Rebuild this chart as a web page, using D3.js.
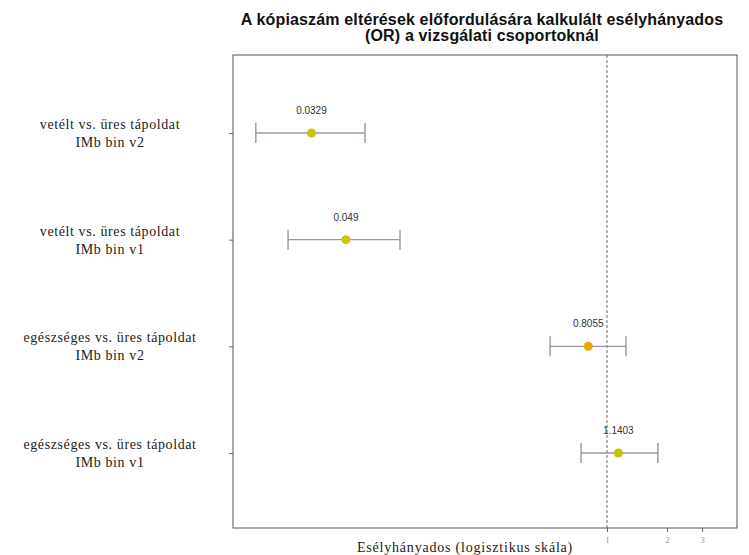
<!DOCTYPE html>
<html>
<head>
<meta charset="utf-8">
<script src="https://cdn.jsdelivr.net/npm/d3@7"></script>
<style>
  html, body { margin: 0; padding: 0; background: #fff; }
  svg { display: block; }
</style>
</head>
<body>
<svg id="chart" width="749" height="555"></svg>
<script>
// Odds ratios with confidence intervals per comparison group
const groups = [
  ["vetélt vs. üres tápoldat", "IMb bin v2"],
  ["vetélt vs. üres tápoldat", "IMb bin v1"],
  ["egészséges vs. üres tápoldat", "IMb bin v2"],
  ["egészséges vs. üres tápoldat", "IMb bin v1"]
];
const oddsRatio = [0.0329, 0.049, 0.8055, 1.1403];
const ciLower = [0.0173, 0.0251, 0.518, 0.741];
const ciUpper = [0.0611, 0.0915, 1.245, 1.80];
const pointColors = ["#cfc400", "#cfc400", "#f0a500", "#c3c400"];
const xTicks = [1, 2, 3];

const titleLines = [
  "A kópiaszám eltérések előfordulására kalkulált esélyhányados",
  "(OR) a vizsgálati csoportoknál"
];
const xTitle = "Esélyhányados (logisztikus skála)";

const svg = d3.select("#chart");
const plot = { left: 233, right: 737, top: 55, bottom: 528 };

const x = d3.scaleLog().domain([0.01329, 4.49]).range([plot.left, plot.right]);
const y = d3.scalePoint().domain(d3.range(groups.length)).range([133, 453]);

// Title
svg.append("g").selectAll("text").data(titleLines).join("text")
  .attr("x", (plot.left + plot.right) / 2 - 3)
  .attr("y", (d, i) => 25 + i * 16)
  .attr("text-anchor", "middle")
  .attr("font-family", "Liberation Sans, Arial, sans-serif")
  .attr("font-weight", "bold")
  .attr("font-size", 16)
  .attr("letter-spacing", 0.15)
  .attr("fill", "#111")
  .text(d => d);

// Plot frame
svg.append("rect")
  .attr("x", plot.left).attr("y", plot.top)
  .attr("width", plot.right - plot.left).attr("height", plot.bottom - plot.top)
  .attr("fill", "none").attr("stroke", "#555").attr("stroke-width", 1);

// Reference line at OR = 1
svg.append("line")
  .attr("x1", x(1)).attr("x2", x(1))
  .attr("y1", plot.top).attr("y2", plot.bottom)
  .attr("stroke", "#666").attr("stroke-width", 1)
  .attr("stroke-dasharray", "3,2");

// X axis
const xAxis = svg.append("g")
  .attr("transform", `translate(0,${plot.bottom})`)
  .call(d3.axisBottom(x).tickValues(xTicks).tickFormat(d3.format("d")).tickSize(4).tickSizeOuter(0));
xAxis.select(".domain").remove();
xAxis.selectAll("line").attr("stroke", "#666");
xAxis.selectAll("text")
  .attr("font-family", "Liberation Serif, Times New Roman, serif")
  .attr("font-size", 9).attr("fill", "#999").attr("dy", "0.9em");

svg.append("text")
  .attr("x", 465).attr("y", 552)
  .attr("text-anchor", "middle")
  .attr("font-family", "Liberation Serif, Times New Roman, serif")
  .attr("font-size", 14).attr("letter-spacing", 0.8).attr("fill", "#222")
  .text(xTitle);

// Y axis ticks and group labels
const yAxis = svg.append("g")
  .attr("transform", `translate(${plot.left},0)`)
  .call(d3.axisLeft(y).tickSize(4).tickFormat(""));
yAxis.select(".domain").remove();
yAxis.selectAll("line").attr("stroke", "#666");

const labels = svg.append("g").selectAll("text").data(groups).join("text")
  .attr("text-anchor", "middle")
  .attr("font-family", "Liberation Serif, Times New Roman, serif")
  .attr("font-size", 14)
  .attr("letter-spacing", 0.6)
  .attr("fill", "#222")
  .attr("transform", (d, i) => `translate(110,${y(i) - 4})`);
labels.selectAll("tspan").data(d => d).join("tspan")
  .attr("x", 0)
  .attr("dy", (d, j) => j === 0 ? 0 : 18)
  .text(d => d);

// Confidence intervals
const bars = svg.append("g").attr("stroke", "#9a94a6").attr("stroke-width", 1.4);
groups.forEach((g, i) => {
  bars.append("line")
    .attr("x1", x(ciLower[i])).attr("x2", x(ciUpper[i]))
    .attr("y1", y(i)).attr("y2", y(i));
  [ciLower[i], ciUpper[i]].forEach(v => {
    bars.append("line")
      .attr("x1", x(v)).attr("x2", x(v))
      .attr("y1", y(i) - 10).attr("y2", y(i) + 10);
  });
});

// Point estimates
svg.append("g").selectAll("circle").data(oddsRatio).join("circle")
  .attr("cx", d => x(d))
  .attr("cy", (d, i) => y(i))
  .attr("r", 4.5)
  .attr("fill", (d, i) => pointColors[i]);

// Value labels
svg.append("g").selectAll("text").data(oddsRatio).join("text")
  .attr("x", d => x(d))
  .attr("y", (d, i) => y(i) - 19)
  .attr("text-anchor", "middle")
  .attr("font-family", "Liberation Sans, Arial, sans-serif")
  .attr("font-size", 10)
  .attr("fill", "#333")
  .text(d => d);
</script>
</body>
</html>
